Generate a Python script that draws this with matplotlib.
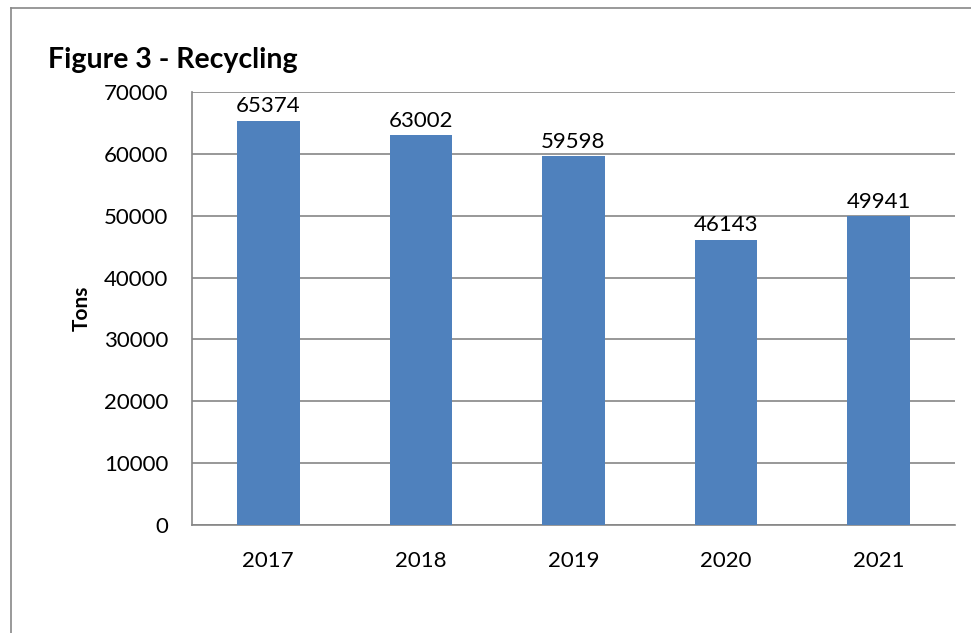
import matplotlib.pyplot as plt
from matplotlib.lines import Line2D

# data
years = ["2017", "2018", "2019", "2020", "2021"]
tons = [65374, 63002, 59598, 46143, 49941]
yticks = [0, 10000, 20000, 30000, 40000, 50000, 60000, 70000]

BAR = "#4F81BD"
GRID = "#868686"
plt.rcParams["font.family"] = ["Lato", "DejaVu Sans"]

fig = plt.figure(figsize=(9.71, 6.33), dpi=100)
ax = fig.add_axes([192 / 971, 1 - 525 / 633, (955 - 192) / 971, (525 - 92) / 633])

x = range(len(years))
bars = ax.bar(x, tons, width=0.41, color=BAR, zorder=3)
for xi, v in zip(x, tons):
    ax.annotate(str(v), (xi, v), xytext=(0, 3), textcoords="offset points",
                ha="center", va="bottom", fontsize=16, color="black")

ax.set_xlim(-0.5, len(years) - 0.5)
ax.set_ylim(0, 70000)
ax.set_yticks(yticks)
ax.set_xticks(list(x))
ax.set_xticklabels(years)
ax.tick_params(axis="both", length=0, labelsize=16, colors="black")
ax.tick_params(axis="y", pad=17)
ax.tick_params(axis="x", pad=19)
ax.yaxis.grid(True, color=GRID, linewidth=1.2, zorder=0)
ax.set_axisbelow(True)
for s in ["top", "right"]:
    ax.spines[s].set_visible(False)
for s in ["left", "bottom"]:
    ax.spines[s].set_color(GRID)
    ax.spines[s].set_linewidth(1.2)

ax.set_ylabel("Tons", fontsize=15, fontweight="bold", labelpad=9)
fig.text(48 / 971, 1 - 60 / 633, "Figure 3 - Recycling", fontsize=20.5,
         fontweight="bold", ha="left", va="center")

# outer chart border (top and left edges visible)
fig.add_artist(Line2D([11 / 971, 11 / 971], [0, 1 - 8 / 633], transform=fig.transFigure,
                      color="#888888", linewidth=1.2))
fig.add_artist(Line2D([11 / 971, 1], [1 - 8 / 633, 1 - 8 / 633], transform=fig.transFigure,
                      color="#888888", linewidth=1.2))

fig.savefig("out.png", dpi=100)
